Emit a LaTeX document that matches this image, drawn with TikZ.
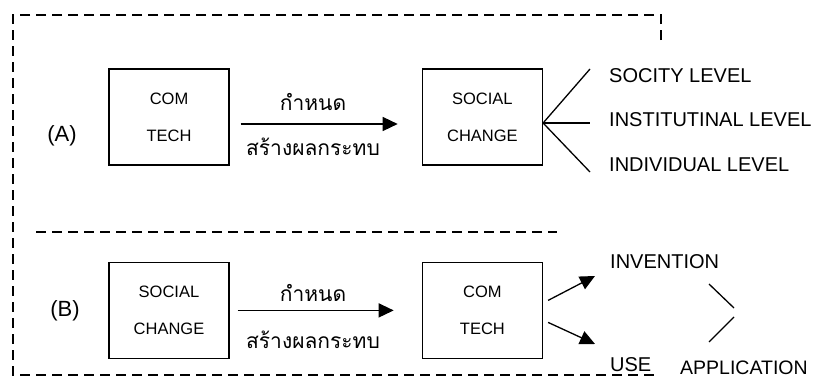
\documentclass[tikz,border=0pt]{standalone}
\usepackage{fontspec}
\setmainfont{Liberation Sans}
\newfontfamily\thaifont[Script=Thai]{Loma}
\usetikzlibrary{arrows.meta}
\usetikzlibrary{positioning}
\tikzset{
  box/.style={draw,line width=1.4pt,minimum width=120pt,minimum height=96pt,inner sep=0pt,align=center,font=\fontsize{16.5}{37}\selectfont},
  lvl/.style={anchor=west,inner sep=0pt,font=\fontsize{20}{24}\selectfont},
  thai/.style={inner sep=0pt,font=\thaifont\fontsize{21}{25}\selectfont},
  tag/.style={inner sep=0pt,font=\fontsize{22}{26}\selectfont},
  frame/.style={line width=1.3pt,dash pattern=on 10pt off 6pt},
  link/.style={line width=1.3pt,-{Triangle[length=15pt,width=14pt]}},
}
\begin{document}
\begin{tikzpicture}[x=1pt,y=-1pt]
		\useasboundingbox (0,0) rectangle (815,380);
		% frame
		\draw[frame] (661,40) -- (661,15) -- (13,15) -- (13,375) -- (660,375);
		\draw[frame] (36,232) -- (557,232);
		% (A)
		\node[box](comA) at (169,117){COM\\TECH};
		\node[box,right=192pt of comA](socA){SOCIAL\\CHANGE};
		\node[tag](labA) at (62,136){(A)};
		\draw[link] ([xshift=11pt,yshift=-7pt]comA.east) -- ([xshift=-24pt,yshift=-7pt]socA.west);
		\node[thai](detA) at (313,102){กำหนด};
		\node[thai](impA) at (313,147){สร้างผลกระทบ};
		\node[lvl](lvS) at (609,76){SOCITY LEVEL};
		\node[lvl](lvI) at (609,120){INSTITUTINAL LEVEL};
		\node[lvl](lvD) at (609,165){INDIVIDUAL LEVEL};
		\coordinate (fan) at ([yshift=-6pt]socA.east);
		\coordinate (endS) at (590,69);
		\coordinate (endI) at (590,123);
		\coordinate (endD) at (590,172);
		\draw[line width=1.3pt] (endS) -- (fan) -- (endD);
		\draw[line width=1.3pt] (fan) -- (endI);
		% (B)
		\node[box,below=96pt of comA](socB){SOCIAL\\CHANGE};
		\node[box,below=96pt of socA](comB){COM\\TECH};
		\node[tag](labB) at (65,311){(B)};
		\draw[link] ([xshift=8pt]socB.east) -- ([xshift=-28pt]comB.west);
		\node[thai](detB) at (313,293){กำหนด};
		\node[thai](impB) at (313,340){สร้างผลกระทบ};
		\node[lvl](inv) at (610,262){INVENTION};
		\node[lvl](use) at (610,365){USE};
		\node[lvl,font=\fontsize{19.5}{24}\selectfont](app) at (680,368){APPLICATION};
		\coordinate (upEnd) at (595,276);
		\coordinate (dnEnd) at (595,344);
		\draw[link] ([xshift=5pt,yshift=10pt]comB.east) -- (upEnd);
		\draw[link] ([xshift=5pt,yshift=-12pt]comB.east) -- (dnEnd);
		\coordinate (brT) at (709,284);
		\coordinate (brM1) at (734,308);
		\coordinate (brM2) at (734,317);
		\coordinate (brB) at (709,342);
		\draw[line width=1.3pt] (brT) -- (brM1);
		\draw[line width=1.3pt] (brM2) -- (brB);
	\end{tikzpicture}
\end{document}
